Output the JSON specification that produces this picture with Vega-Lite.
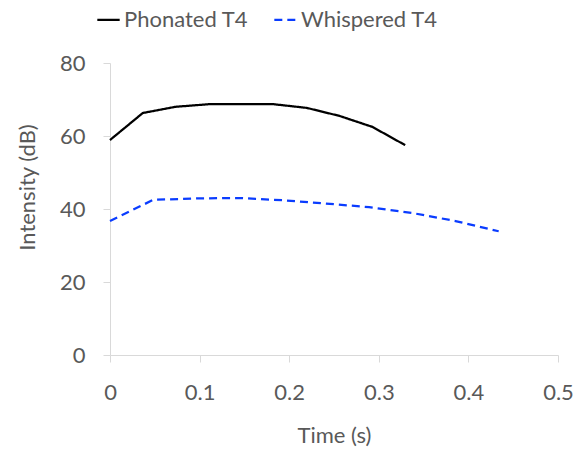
{
  "$schema": "https://vega.github.io/schema/vega-lite/v6.json",
  "width": 448,
  "height": 292,
  "autosize": {"type": "none"},
  "padding": {"left": 110, "top": 63, "right": 30, "bottom": 95},
  "background": "white",
  "config": {
    "view": {"stroke": null},
    "font": "Lato",
    "axis": {
      "grid": false,
      "domainColor": "#d9d9d9",
      "tickColor": "#d9d9d9",
      "labelColor": "#595959",
      "titleColor": "#595959",
      "labelFontSize": 22,
      "titleFontSize": 22,
      "titleFontWeight": "normal",
      "labelFont": "Lato",
      "titleFont": "Lato",
      "tickSize": 7,
      "labelFlush": false
    }
  },
  "data": {
    "values": [
      {"series": "Phonated T4", "time": 0.0, "intensity": 58.9},
      {"series": "Phonated T4", "time": 0.0366, "intensity": 66.3},
      {"series": "Phonated T4", "time": 0.0732, "intensity": 68.0},
      {"series": "Phonated T4", "time": 0.1098, "intensity": 68.7},
      {"series": "Phonated T4", "time": 0.1464, "intensity": 68.7},
      {"series": "Phonated T4", "time": 0.183, "intensity": 68.7},
      {"series": "Phonated T4", "time": 0.2196, "intensity": 67.7},
      {"series": "Phonated T4", "time": 0.2562, "intensity": 65.5},
      {"series": "Phonated T4", "time": 0.2928, "intensity": 62.5},
      {"series": "Phonated T4", "time": 0.3294, "intensity": 57.5},
      {"series": "Whispered T4", "time": 0.0, "intensity": 36.7},
      {"series": "Whispered T4", "time": 0.0482, "intensity": 42.5},
      {"series": "Whispered T4", "time": 0.0964, "intensity": 42.9},
      {"series": "Whispered T4", "time": 0.1446, "intensity": 43.0},
      {"series": "Whispered T4", "time": 0.1928, "intensity": 42.4},
      {"series": "Whispered T4", "time": 0.241, "intensity": 41.5},
      {"series": "Whispered T4", "time": 0.2892, "intensity": 40.5},
      {"series": "Whispered T4", "time": 0.3374, "intensity": 38.9},
      {"series": "Whispered T4", "time": 0.3856, "intensity": 36.7},
      {"series": "Whispered T4", "time": 0.4338, "intensity": 33.9}
    ]
  },
  "mark": {"type": "line", "strokeWidth": 2.25},
  "encoding": {
    "x": {
      "field": "time",
      "type": "quantitative",
      "scale": {"domain": [0, 0.5], "nice": false},
      "axis": {"values": [0, 0.1, 0.2, 0.3, 0.4, 0.5], "title": "Time (s)", "labelPadding": 20, "titlePadding": 22, "format": "~g"}
    },
    "y": {
      "field": "intensity",
      "type": "quantitative",
      "scale": {"domain": [0, 80], "nice": false},
      "axis": {"values": [0, 20, 40, 60, 80], "title": "Intensity (dB)", "labelPadding": 18, "titlePadding": 20, "titleY": 124}
    },
    "color": {
      "field": "series",
      "type": "nominal",
      "scale": {"domain": ["Phonated T4", "Whispered T4"], "range": ["#000000", "#0a3cff"]},
      "legend": {
        "title": null,
        "orient": "none",
        "legendX": -14,
        "legendY": -56,
        "direction": "horizontal",
        "symbolType": "stroke",
        "symbolSize": 500,
        "symbolStrokeWidth": 2.25,
        "labelFontSize": 22,
        "labelColor": "#595959",
        "labelFont": "Lato",
        "columnPadding": 20,
        "labelOffset": 3
      }
    },
    "strokeDash": {
      "field": "series",
      "type": "nominal",
      "scale": {"domain": ["Phonated T4", "Whispered T4"], "range": [[1, 0], [8, 5]]},
      "legend": null
    }
  }
}
